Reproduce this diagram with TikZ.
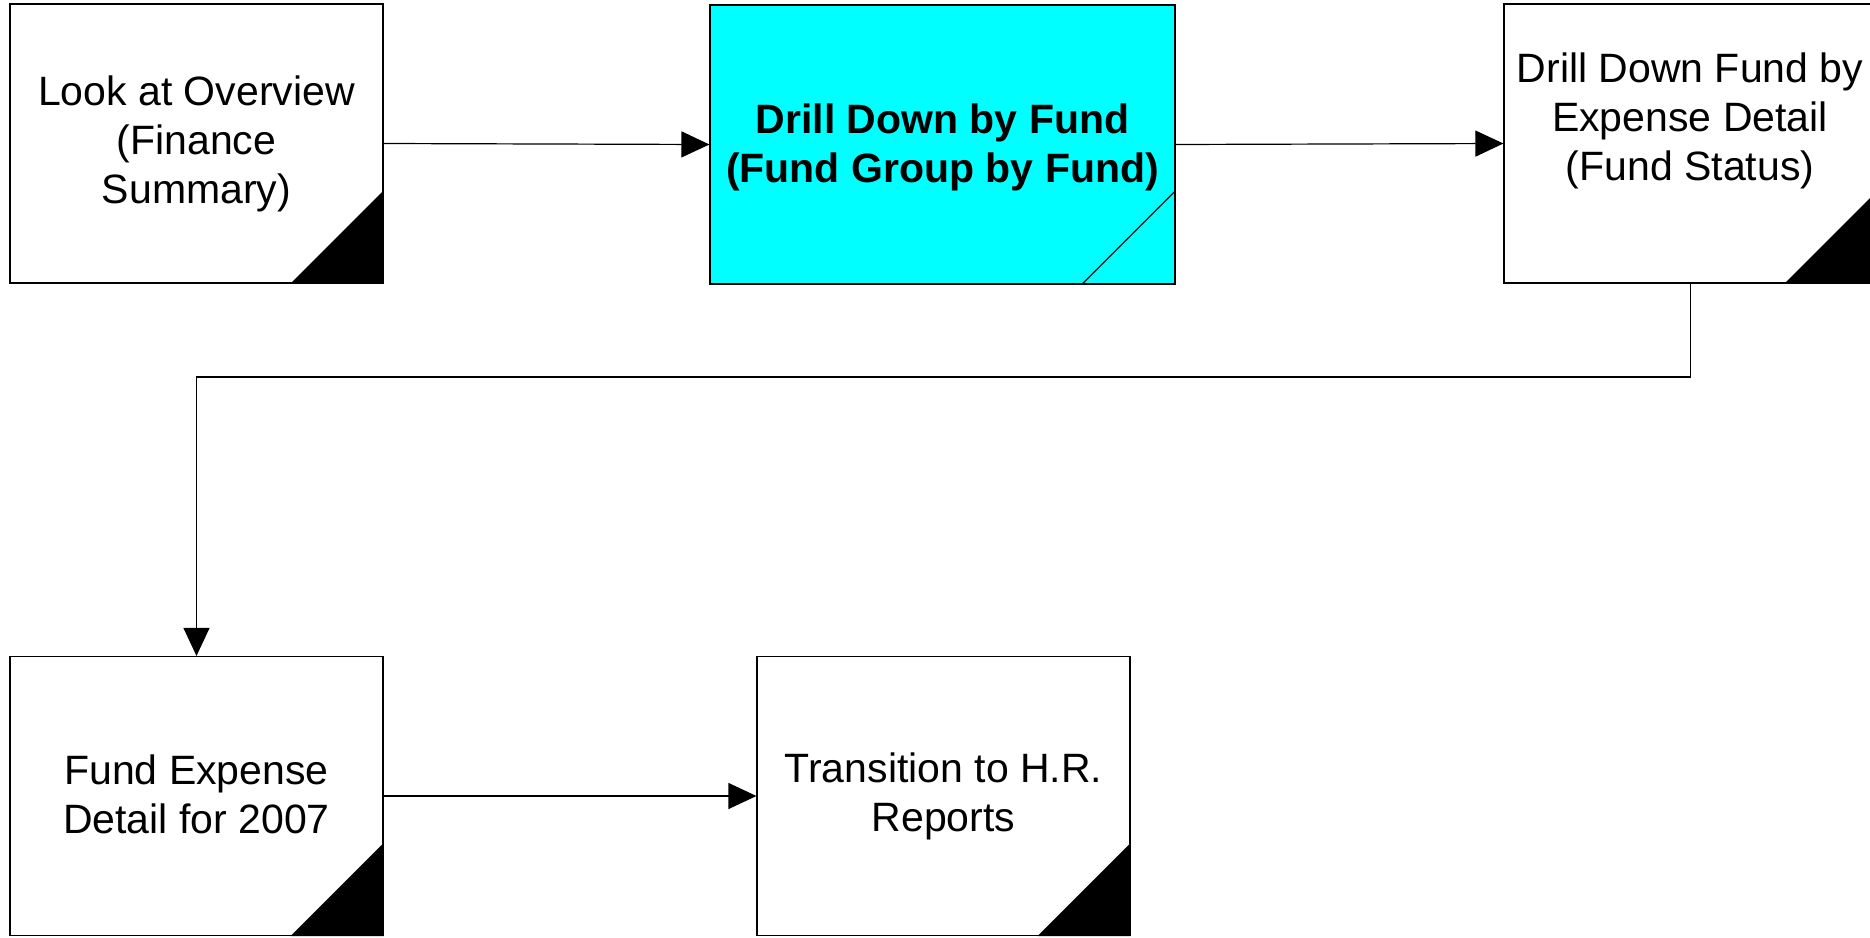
\documentclass[tikz,border=0pt]{standalone}
\usepackage{fontspec}
\setmainfont{Liberation Sans}
\usetikzlibrary{arrows.meta}
\begin{document}
\begin{tikzpicture}[x=1pt,y=-1pt,
  box/.style={draw=black,line width=1.2pt,rectangle,inner sep=0pt,
    minimum width=373pt,minimum height=279pt,align=center,
    font=\fontsize{41}{49}\selectfont},
  conn/.style={draw=black,line width=1.2pt,-{Triangle[length=28pt,width=26pt]}},
  corner/.style={fill=black}]
\useasboundingbox (0,0) rectangle (1870,937);
\clip (0,0) rectangle (1870,937);
\fill[white] (0,0) rectangle (1870,937);

\node[box] (b1) at (196.5,143.5) {Look at Overview\\(Finance\\Summary)};
\node[box,fill={rgb,255:red,0;green,255;blue,255},minimum width=465pt] (b2) at (942.5,144.5) {};
\node[align=center,font=\fontsize{41}{49}\selectfont\bfseries,inner sep=0pt] (b2t) at (942.5,147)
  {Drill Down by Fund\\(Fund Group by Fund)};
\node[box] (b3) at (1690.5,143.5) {};
\node[align=center,font=\fontsize{41}{49}\selectfont,inner sep=0pt] (b3t) at (1690,120.5)
  {Drill Down Fund by\\Expense Detail\\(Fund Status)};
\node[box] (b4) at (196.5,796) {};
\node[align=center,font=\fontsize{41}{49}\selectfont,inner sep=0pt] (b4t) at (196.5,794)
  {Fund Expense\\Detail for 2007};
\node[box] (b5) at (943.5,796) {Transition to H.R.\\Reports};

% corner marks
\fill[corner] (b1.south east) -- ++(-93,0) -- ++(93,-93) -- cycle;
\fill[corner] (b3.south east) -- ++(-93,0) -- ++(93,-93) -- cycle;
\fill[corner] (b4.south east) -- ++(-93,0) -- ++(93,-93) -- cycle;
\fill[corner] (b5.south east) -- ++(-93,0) -- ++(93,-93) -- cycle;
\draw[line width=1.2pt] ([xshift=-94pt]b2.south east) -- ([yshift=94pt]b2.south east);

% connectors
\coordinate (turn) at (1690.5,377);
\draw[conn] (b1.east) -- (b2.west);
\draw[conn] (b2.east) -- (b3.west);
\draw[conn] (b3.south) -- (turn) -| (b4.north);
\draw[conn] (b4.east) -- (b5.west);
\end{tikzpicture}
\end{document}
